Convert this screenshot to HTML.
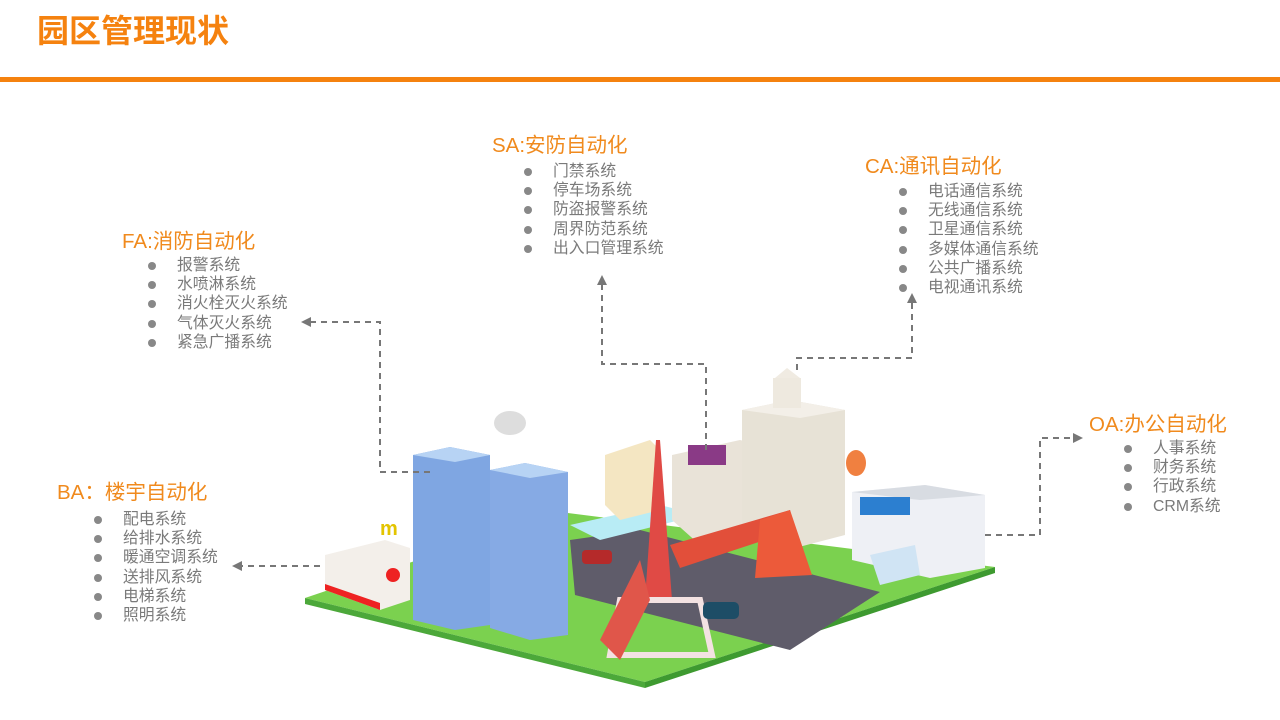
<!DOCTYPE html>
<html><head><meta charset="utf-8"><style>
body{margin:0;width:1280px;height:720px;background:#fff;position:relative;overflow:hidden;font-family:"Liberation Sans","Noto Sans CJK SC",sans-serif}
.t{position:absolute;color:#f08a1d;font-size:20.5px;line-height:24px;white-space:nowrap}
.l{position:absolute;margin:0;padding:0;list-style:none;color:#7a7a7a;font-size:15.8px;line-height:19.2px}
.l li{position:relative;padding-left:29px;white-space:nowrap}
.l li:before{content:"";position:absolute;left:0;top:6px;width:8px;height:8px;border-radius:50%;background:#888}
svg{position:absolute;left:0;top:0}
</style></head><body>
<div style="position:absolute;left:37px;top:12px;font-size:32px;font-weight:bold;color:#f5820f;line-height:38px">园区管理现状</div>
<div style="position:absolute;left:0;top:77px;width:1280px;height:5px;background:#f5820f"></div>
<svg width="1280" height="720">
<defs><marker id="a" markerWidth="5" markerHeight="5" refX="2.5" refY="2.5" orient="auto"><path d="M0,0 L5,2.5 L0,5z" fill="#777"/></marker></defs>
<polygon points="305,598 560,512 995,567 645,682" fill="#7bd14f"/>
<polygon points="305,598 645,682 645,688 305,604" fill="#4ca83a"/>
<polygon points="645,682 995,567 995,573 645,688" fill="#3e9a30"/>
<polygon points="570,540 640,530 880,592 790,650 575,595" fill="#5f5c6a"/>
<polygon points="570,525 660,505 700,515 600,540" fill="#b8ecf5"/>
<polygon points="325,555 385,540 410,548 410,600 380,610 325,590" fill="#f3efea"/>
<polygon points="325,590 380,610 380,603 325,584" fill="#e22"/>
<circle cx="393" cy="575" r="7" fill="#e22"/>
<text x="380" y="535" font-size="20" fill="#e3c400" font-weight="bold">m</text>
<polygon points="413,455 450,447 490,455 490,625 455,630 413,620" fill="#7fa6e2"/>
<polygon points="413,455 450,447 490,455 455,462" fill="#b7d3f4"/>
<polygon points="490,470 525,463 568,472 568,635 530,640 490,628" fill="#86aae4"/>
<polygon points="490,470 525,463 568,472 530,478" fill="#b7d3f4"/>
<ellipse cx="510" cy="423" rx="16" ry="12" fill="#ddd"/>
<polygon points="605,455 650,440 660,450 660,510 620,520 605,505" fill="#f4e6c2"/>
<polygon points="672,455 740,440 780,450 780,540 700,545 672,520" fill="#e9e3d8"/>
<rect x="688" y="445" width="38" height="20" fill="#8a3a86"/>
<polygon points="742,410 790,400 845,410 845,535 795,548 742,530" fill="#e7e2d6"/>
<polygon points="742,410 790,400 845,410 800,418" fill="#f3efe8"/>
<rect x="773" y="378" width="28" height="30" fill="#eee9df"/>
<polygon points="775,378 787,368 800,378" fill="#f0ebe2"/>
<ellipse cx="856" cy="463" rx="10" ry="13" fill="#f08040"/>
<polygon points="852,492 925,485 985,495 985,568 930,578 852,560" fill="#eef0f5"/>
<polygon points="852,492 925,485 985,495 920,500" fill="#d8dce2"/>
<rect x="860" y="497" width="50" height="18" fill="#2c7fd0"/>
<polygon points="870,555 915,545 920,575 880,585" fill="#d0e4f4"/>
<polygon points="670,545 790,510 795,530 680,568" fill="#e24f3a"/>
<polygon points="760,520 790,510 812,575 755,578" fill="#ec5a3a"/>
<polygon points="656,440 660,440 672,600 645,600" fill="#e04a45"/>
<polygon points="620,600 700,600 712,655 610,655" fill="none" stroke="#f3e2e2" stroke-width="6"/>
<polygon points="600,640 640,560 650,600 620,660" fill="#e0564a"/>
<rect x="582" y="550" width="30" height="14" rx="4" fill="#b52a2a"/>
<rect x="703" y="602" width="36" height="17" rx="5" fill="#1d4d66"/>
<g fill="none" stroke="#777" stroke-width="2" stroke-dasharray="6,5">
<path d="M430,472 H380 V322 H306" marker-end="url(#a)"/>
<path d="M706,450 V364 H602 V280" marker-end="url(#a)"/>
<path d="M797,370 V358 H912 V298" marker-end="url(#a)"/>
<path d="M320,566 H237" marker-end="url(#a)"/>
<path d="M985,535 H1040 V438 H1078" marker-end="url(#a)"/>
</g>
</svg>
<div class="t" style="left:492px;top:134px">SA:安防自动化</div>
<ul class="l" style="left:524px;top:162px"><li>门禁系统</li><li>停车场系统</li><li>防盗报警系统</li><li>周界防范系统</li><li>出入口管理系统</li></ul>
<div class="t" style="left:865px;top:155px">CA:通讯自动化</div>
<ul class="l" style="left:899px;top:182px"><li>电话通信系统</li><li>无线通信系统</li><li>卫星通信系统</li><li>多媒体通信系统</li><li>公共广播系统</li><li>电视通讯系统</li></ul>
<div class="t" style="left:122px;top:230px">FA:消防自动化</div>
<ul class="l" style="left:148px;top:256px"><li>报警系统</li><li>水喷淋系统</li><li>消火栓灭火系统</li><li>气体灭火系统</li><li>紧急广播系统</li></ul>
<div class="t" style="left:57px;top:481px">BA：楼宇自动化</div>
<ul class="l" style="left:94px;top:510px"><li>配电系统</li><li>给排水系统</li><li>暖通空调系统</li><li>送排风系统</li><li>电梯系统</li><li>照明系统</li></ul>
<div class="t" style="left:1089px;top:413px">OA:办公自动化</div>
<ul class="l" style="left:1124px;top:439px"><li>人事系统</li><li>财务系统</li><li>行政系统</li><li>CRM系统</li></ul>
</body></html>
